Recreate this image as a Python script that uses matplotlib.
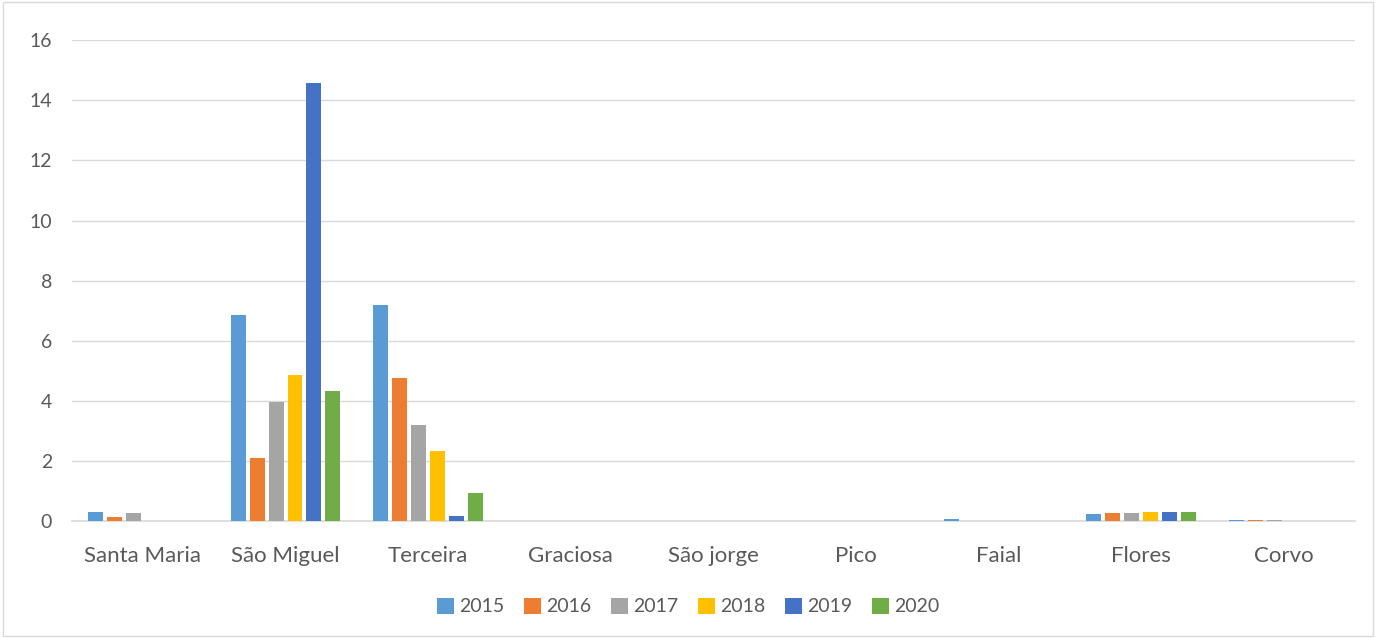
import numpy as np
import matplotlib.pyplot as plt

plt.rcParams['font.family'] = ['Lato', 'DejaVu Sans']

islands = ['Santa Maria', 'São Miguel', 'Terceira', 'Graciosa', 'São jorge',
           'Pico', 'Faial', 'Flores', 'Corvo']
years = ['2015', '2016', '2017', '2018', '2019', '2020']
v2015 = [0.30, 6.85, 7.19, 0, 0, 0, 0.07, 0.25, 0.04]
v2016 = [0.13, 2.10, 4.76, 0, 0, 0, 0, 0.27, 0.04]
v2017 = [0.26, 3.96, 3.19, 0, 0, 0, 0, 0.27, 0.03]
v2018 = [0, 4.86, 2.33, 0, 0, 0, 0, 0.31, 0]
v2019 = [0, 14.57, 0.16, 0, 0, 0, 0, 0.31, 0]
v2020 = [0, 4.32, 0.93, 0, 0, 0, 0, 0.30, 0]
series = [v2015, v2016, v2017, v2018, v2019, v2020]
colors = ['#5B9BD5', '#ED7D31', '#A5A5A5', '#FFC000', '#4472C4', '#70AD47']

fig = plt.figure(figsize=(13.76, 6.38), dpi=100)
ax = fig.add_axes([0.052, 0.183, 0.933, 0.754])

x = np.arange(len(islands))
step = 0.133
width = 0.105
for k, (vals, c, yr) in enumerate(zip(series, colors, years)):
    ax.bar(x + (k - 2.5) * step, vals, width, color=c, label=yr, zorder=3)

ax.set_xlim(-0.5, len(islands) - 0.5)
ax.set_ylim(0, 16)
ax.set_yticks(range(0, 17, 2))
ax.set_xticks(x)
ax.set_xticklabels(islands)
ax.grid(axis='y', color='#D9D9D9', linewidth=1, zorder=0)
for s in ['top', 'right', 'left']:
    ax.spines[s].set_visible(False)
ax.spines['bottom'].set_color('#D9D9D9')
ax.spines['bottom'].set_linewidth(1.2)
ax.tick_params(length=0, colors='#595959')
ax.tick_params(axis='x', labelsize=16, pad=18)
ax.tick_params(axis='y', labelsize=14, pad=14)

fig.legend(loc='lower center', bbox_to_anchor=(0.5, 0.008), ncol=6, frameon=False,
           fontsize=14, labelcolor='#595959', handlelength=0.9, handleheight=0.9,
           handletextpad=0.25, columnspacing=1.0)

border = plt.Rectangle((0.002, 0.003), 0.996, 0.994, transform=fig.transFigure,
                       fill=False, edgecolor='#D9D9D9', linewidth=1)
fig.patches.append(border)

fig.savefig('out.png', dpi=100)
